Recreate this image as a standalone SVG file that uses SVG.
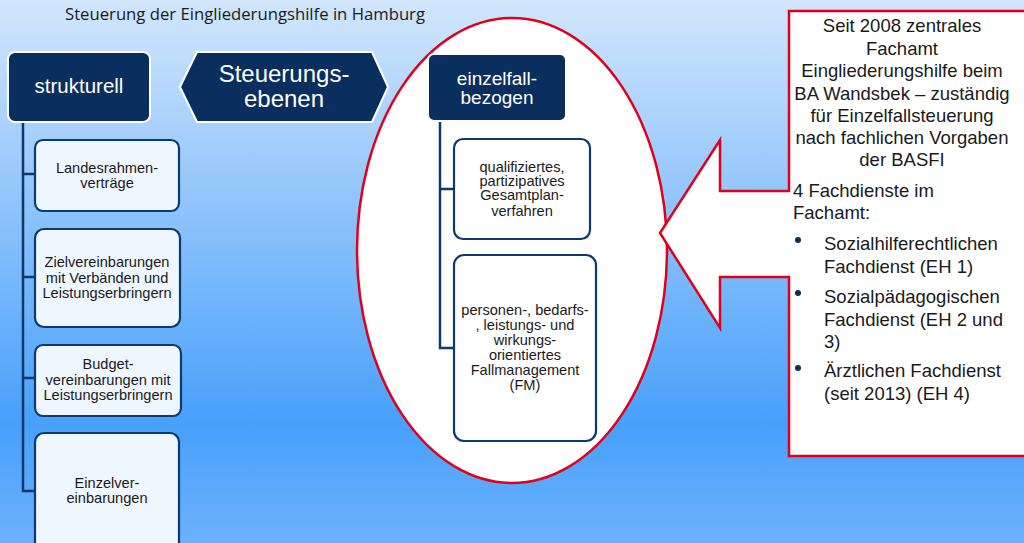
<svg xmlns="http://www.w3.org/2000/svg" width="1024" height="543" viewBox="0 0 1024 543">
<defs>
<linearGradient id="bg" x1="0" y1="0" x2="0" y2="1">
<stop offset="0" stop-color="#d2e6fc"/>
<stop offset="0.78" stop-color="#48a0fb"/>
<stop offset="1" stop-color="#6cb1fc"/>
</linearGradient>
</defs>
<style>
.hd{fill:#0a2f5f;stroke:#ffffff;stroke-width:2}
.bx{fill:#eef6ff;stroke:#0d3a6e;stroke-width:2.2}
.bw{fill:#ffffff;stroke:#0d3a6e;stroke-width:2.2}
.ln{fill:none;stroke:#0d3a6e;stroke-width:2.5}
.red{fill:#ffffff;stroke:#e0001b;stroke-width:2.5}
text{font-family:"Liberation Sans",Arial,sans-serif}
.wt{fill:#ffffff;text-anchor:middle}
.bt{fill:#1a1a1a;text-anchor:middle;font-size:14.6px}
.ct{fill:#1a1a1a;font-size:18.5px}
</style>
<rect x="0" y="0" width="1024" height="543" fill="url(#bg)"/>
<text x="65" y="20" font-size="16.5" fill="#1a1a1a" textLength="360" lengthAdjust="spacingAndGlyphs" style="font-family:'Open Sans',sans-serif">Steuerung der Eingliederungshilfe in Hamburg</text>

<ellipse id="focus" class="red" cx="512" cy="250.5" rx="155" ry="232.5"/>

<g id="callout">
<polygon class="red" points="789,11 1030,11 1030,456 789,456 789,277 720,277 720,328 660,233 720,140 720,191 789,191"/>
<text class="ct" x="902" y="32" text-anchor="middle">Seit 2008 zentrales</text>
<text class="ct" x="902" y="54.5" text-anchor="middle">Fachamt</text>
<text class="ct" x="902" y="77" text-anchor="middle">Eingliederungshilfe beim</text>
<text class="ct" x="902" y="100" text-anchor="middle">BA Wandsbek – zuständig</text>
<text class="ct" x="902" y="122" text-anchor="middle">für Einzelfallsteuerung</text>
<text class="ct" x="902" y="144" text-anchor="middle">nach fachlichen Vorgaben</text>
<text class="ct" x="902" y="166" text-anchor="middle">der BASFI</text>
<text class="ct" x="793" y="197">4 Fachdienste im</text>
<text class="ct" x="793" y="219">Fachamt:</text>
<circle cx="798" cy="240" r="3" fill="#0a2f5f"/>
<text class="ct" x="824" y="250">Sozialhilferechtlichen</text>
<text class="ct" x="824" y="273">Fachdienst (EH 1)</text>
<circle cx="798" cy="293" r="3" fill="#0a2f5f"/>
<text class="ct" x="824" y="303">Sozialpädagogischen</text>
<text class="ct" x="824" y="326">Fachdienst (EH 2 und</text>
<text class="ct" x="824" y="348">3)</text>
<circle cx="798" cy="368" r="3" fill="#0a2f5f"/>
<text class="ct" x="824" y="377">Ärztlichen Fachdienst</text>
<text class="ct" x="824" y="400">(seit 2013) (EH 4)</text>
</g>

<g id="connectors">
<polyline class="ln" points="23,122 23,491 36,491"/>
<line class="ln" x1="23" y1="174" x2="36" y2="174"/>
<line class="ln" x1="23" y1="277" x2="36" y2="277"/>
<line class="ln" x1="23" y1="378" x2="36" y2="378"/>
<polyline class="ln" points="440,121 440,348 454,348"/>
<line class="ln" x1="440" y1="189" x2="454" y2="189"/>
</g>

<g id="strukturell">
<rect class="hd" x="8" y="52" width="142" height="70" rx="7"/>
<text class="wt" x="79" y="93" font-size="20.5">strukturell</text>
</g>
<g id="steuerungsebenen">
<polygon class="hd" points="180,87 197,52 372,52 388,87 372,122 197,122"/>
<text class="wt" x="284" y="82" font-size="24">Steuerungs-</text>
<text class="wt" x="284" y="107" font-size="24">ebenen</text>
</g>
<g id="einzelfall">
<rect class="hd" x="428" y="54" width="138" height="67" rx="6"/>
<text class="wt" x="497" y="85" font-size="19">einzelfall-</text>
<text class="wt" x="497" y="104" font-size="19">bezogen</text>
</g>

<g id="landesrahmen">
<rect class="bx" x="35" y="140" width="144" height="71" rx="8"/>
<text class="bt" x="107" y="173">Landesrahmen-</text>
<text class="bt" x="107" y="188">verträge</text>
</g>
<g id="ziel">
<rect class="bx" x="35" y="229" width="145" height="98" rx="9"/>
<text class="bt" x="107" y="267">Zielvereinbarungen</text>
<text class="bt" x="107" y="283">mit Verbänden und</text>
<text class="bt" x="107" y="298">Leistungserbringern</text>
</g>
<g id="budget">
<rect class="bx" x="35" y="345" width="146" height="71" rx="8"/>
<text class="bt" x="108" y="369">Budget-</text>
<text class="bt" x="108" y="385">vereinbarungen mit</text>
<text class="bt" x="108" y="400">Leistungserbringern</text>
</g>
<g id="einzelver">
<rect class="bx" x="35" y="433" width="144" height="120" rx="9"/>
<text class="bt" x="107" y="488">Einzelver-</text>
<text class="bt" x="107" y="503">einbarungen</text>
</g>

<g id="gesamtplan">
<rect class="bw" x="454" y="139" width="136" height="100" rx="9"/>
<text class="bt" x="522" y="172">qualifiziertes,</text>
<text class="bt" x="522" y="186">partizipatives</text>
<text class="bt" x="522" y="200">Gesamtplan-</text>
<text class="bt" x="522" y="216">verfahren</text>
</g>
<g id="fallmanagement">
<rect class="bw" x="454" y="255" width="142" height="186" rx="10"/>
<text class="bt" x="525" y="315">personen-, bedarfs-</text>
<text class="bt" x="525" y="330">, leistungs- und</text>
<text class="bt" x="525" y="345">wirkungs-</text>
<text class="bt" x="525" y="360">orientiertes</text>
<text class="bt" x="525" y="375">Fallmanagement</text>
<text class="bt" x="525" y="390">(FM)</text>
</g>
</svg>
